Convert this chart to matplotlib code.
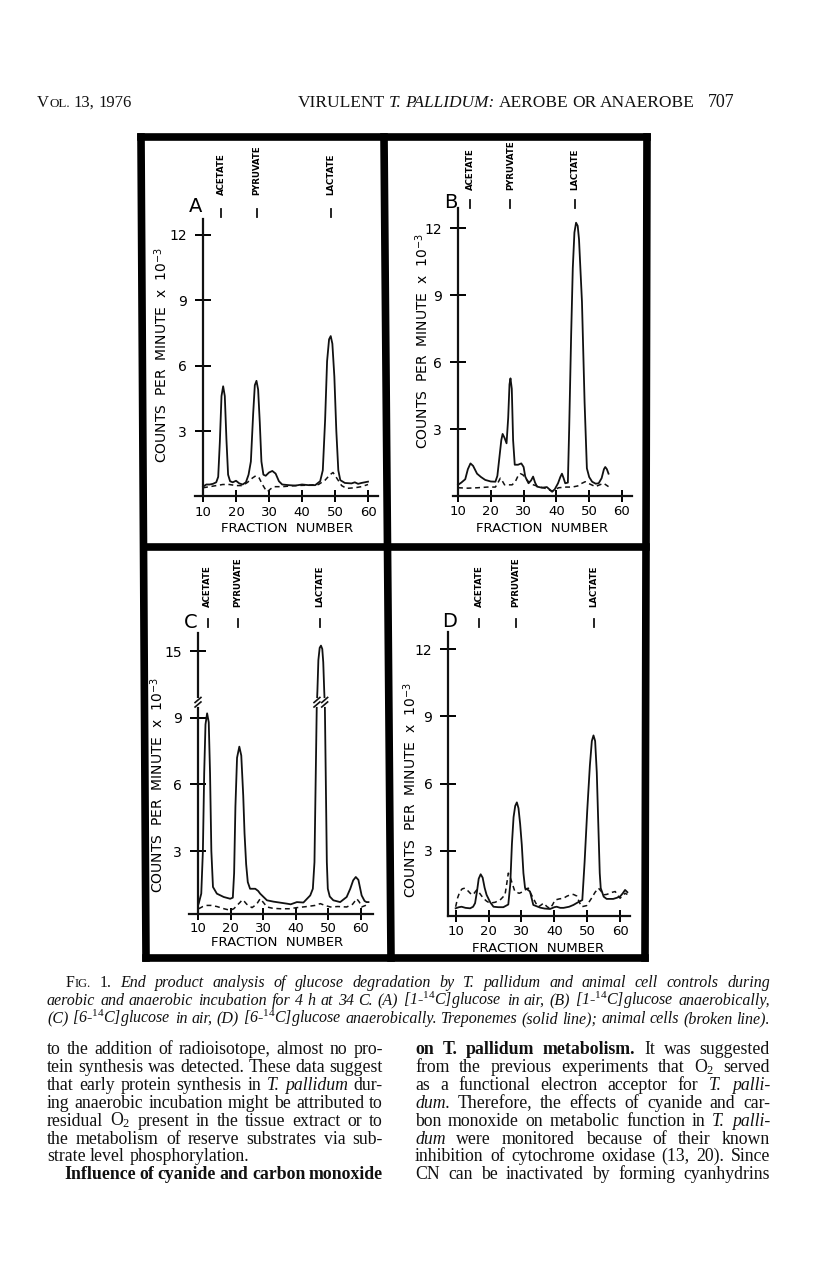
import numpy as np
import matplotlib
matplotlib.use('Agg')
import matplotlib.pyplot as plt
from matplotlib import transforms
from matplotlib.lines import Line2D

plt.rcParams['font.family'] = 'DejaVu Sans'
plt.rcParams['mathtext.fontset'] = 'custom'
plt.rcParams['mathtext.rm'] = 'Liberation Serif'
plt.rcParams['mathtext.it'] = 'Liberation Serif:italic'
plt.rcParams['mathtext.bf'] = 'Liberation Serif:bold'
plt.rcParams['mathtext.sf'] = 'DejaVu Sans'

W, H = 816, 1265

# ---- data (fraction number, counts per minute x 10^-3)
compounds = ["ACETATE", "PYRUVATE", "LACTATE"]
a_marks = [15.5, 26.3, 48.8]
b_marks = [13.7, 26.0, 45.7]
c_marks = [13.0, 22.2, 47.5]
d_marks = [17.2, 28.3, 52.0]

a_solid = [(10, 0.45), (11, 0.55), (12, 0.55), (13, 0.58), (14, 0.65), (14.6, 0.9), (15.1, 2.5),
           (15.6, 4.6), (16.1, 5.05), (16.6, 4.6), (17.1, 2.6), (17.6, 1.0), (18.2, 0.7), (19, 0.65),
           (20, 0.72), (21, 0.6), (22, 0.55), (23, 0.65), (23.8, 1.0), (24.5, 1.6), (25.2, 3.8),
           (25.7, 5.1), (26.2, 5.3), (26.7, 4.9), (27.2, 3.4), (27.7, 1.6), (28.3, 1.0), (29, 0.95),
           (30, 1.1), (31, 1.17), (32, 1.05), (33, 0.7), (34, 0.55), (36, 0.52), (38, 0.5),
           (40, 0.55), (42, 0.52), (44, 0.52), (45.5, 0.7), (46.3, 1.2), (47, 3.5), (47.6, 6.2),
           (48.2, 7.2), (48.7, 7.35), (49.2, 7.0), (49.8, 5.5), (50.4, 3.0), (51, 1.2), (51.6, 0.75),
           (53, 0.62), (55, 0.6), (56, 0.65), (57, 0.58), (58, 0.62), (60, 0.68)]
a_broken = [(10, 0.4), (12, 0.45), (14, 0.5), (16, 0.55), (18, 0.55), (20, 0.5), (22, 0.5),
            (23.5, 0.65), (25, 0.85), (26, 0.95), (27, 0.85), (28, 0.55), (29, 0.3), (29.5, 0.22),
            (30.5, 0.35), (31.5, 0.45), (34, 0.45), (38, 0.5), (42, 0.52), (45, 0.55), (47, 0.75),
            (48.5, 1.0), (49.4, 1.1), (50.5, 0.85), (52, 0.5), (53.5, 0.37), (56, 0.4), (58, 0.45),
            (60, 0.55)]

b_solid = [(10, 0.5), (11, 0.6), (12.2, 0.75), (13, 1.2), (13.8, 1.46), (14.6, 1.35), (15.8, 1.0),
           (17, 0.85), (18.3, 0.72), (20, 0.65), (21.4, 0.64), (22, 0.9), (22.6, 1.7), (23.2, 2.5),
           (23.6, 2.78), (24.2, 2.6), (24.8, 2.36), (25.3, 3.5), (25.7, 5.0), (26, 5.27), (26.4, 4.8),
           (26.8, 2.5), (27.3, 1.4), (28.3, 1.4), (29.3, 1.46), (30, 1.3), (30.5, 0.87), (31.5, 0.57),
           (32.3, 0.7), (32.9, 0.87), (33.5, 0.6), (34.1, 0.42), (35.6, 0.37), (37.1, 0.4),
           (38.7, 0.19), (39.5, 0.3), (40.5, 0.57), (41.2, 0.85), (41.7, 1.0), (42.2, 0.8),
           (42.7, 0.57), (43.5, 0.6), (43.9, 3.0), (44.5, 7.2), (45.0, 10.2), (45.5, 11.8),
           (46.0, 12.24), (46.5, 12.1), (46.9, 11.5), (47.8, 8.7), (48.6, 4.2), (49.3, 1.24),
           (50.0, 0.85), (50.9, 0.64), (52.0, 0.55), (52.9, 0.57), (53.8, 0.8), (54.5, 1.2),
           (54.9, 1.3), (55.4, 1.2), (55.9, 1.0)]
b_broken = [(10, 0.37), (13, 0.35), (16, 0.37), (19, 0.4), (21.4, 0.4), (22.2, 0.6), (22.9, 0.8),
            (23.6, 0.65), (24.2, 0.5), (25.5, 0.5), (26.5, 0.5), (27.5, 0.65), (28.3, 0.9), (29, 1.0),
            (29.8, 0.95), (30.5, 0.8), (31.5, 0.64), (33, 0.5), (34.6, 0.42), (36.5, 0.35),
            (38.7, 0.22), (40.7, 0.37), (43, 0.4), (44.8, 0.4), (46.5, 0.45), (47.5, 0.55),
            (48.8, 0.64), (50, 0.55), (51.9, 0.42), (53.2, 0.5), (54.4, 0.57), (55.9, 0.42)]

c_solid = [(10.2, 0.63), (11, 1.08), (11.5, 3.0), (11.9, 6.5), (12.3, 8.7), (12.8, 9.2), (13.3, 8.8),
           (13.7, 6.5), (14.1, 3.0), (14.6, 1.38), (15.8, 1.08), (17.9, 0.93), (19.9, 0.85),
           (20.7, 0.9), (21.1, 2.0), (21.5, 5.0), (22.0, 7.2), (22.7, 7.7), (23.3, 7.3), (23.9, 5.5),
           (24.3, 3.8), (24.8, 2.4), (25.3, 1.6), (26, 1.3), (27.6, 1.3), (28.5, 1.2), (29.1, 1.08),
           (31.2, 0.78), (33.2, 0.72), (37.3, 0.63), (38.5, 0.6), (40.4, 0.7), (42.4, 0.68),
           (44.5, 1.0), (45.3, 1.3), (45.8, 2.5), (46.2, 6.5), (46.5, 9.5), (46.7, 13.2), (47.0, 14.6),
           (47.4, 15.15), (47.8, 15.25), (48.2, 15.1), (48.5, 14.5), (48.8, 13.2), (49.0, 9.5),
           (49.3, 6.0), (49.6, 2.5), (49.9, 1.3), (50.5, 0.95), (51.6, 0.78), (53.7, 0.7),
           (55.7, 0.93), (56.8, 1.3), (57.7, 1.68), (58.5, 1.83), (59.3, 1.7), (60.3, 1.0),
           (61.2, 0.75), (61.8, 0.7), (62.4, 0.7)]
c_broken = [(10.2, 0.4), (11.5, 0.5), (12.8, 0.55), (14, 0.55), (15.8, 0.5), (18, 0.4), (19.9, 0.33),
            (21, 0.4), (22, 0.55), (23, 0.7), (23.6, 0.8), (24.3, 0.72), (25, 0.6), (26.6, 0.45),
            (28, 0.6), (29.1, 0.85), (30, 0.7), (31.2, 0.48), (33, 0.42), (35.3, 0.4), (38, 0.4),
            (40.4, 0.45), (43.5, 0.5), (46, 0.55), (47.6, 0.63), (49, 0.55), (50.7, 0.48), (53, 0.5),
            (55.7, 0.48), (57.5, 0.6), (58.8, 0.85), (59.6, 0.7), (60.3, 0.48), (61.5, 0.55),
            (62.4, 0.63)]

d_solid = [(10, 0.43), (11, 0.48), (11.8, 0.5), (13, 0.45), (14.4, 0.43), (15.3, 0.5), (15.9, 0.66),
           (16.5, 1.2), (17.0, 1.75), (17.6, 1.95), (18.2, 1.8), (18.8, 1.35), (19.4, 1.03),
           (20.5, 0.7), (21.5, 0.5), (23, 0.48), (24.5, 0.48), (26, 0.6), (26.6, 1.5), (27.1, 3.3),
           (27.6, 4.5), (28.1, 5.0), (28.6, 5.16), (29.1, 4.9), (29.6, 4.2), (30.1, 3.27), (30.6, 2.0),
           (31.1, 1.33), (32.0, 1.25), (32.6, 1.18), (33.6, 0.58), (35.7, 0.46), (37, 0.42),
           (38.7, 0.4), (40, 0.48), (40.7, 0.5), (41.8, 0.45), (42.8, 0.45), (44.5, 0.5), (45.8, 0.58),
           (47.2, 0.7), (48.5, 0.8), (49.2, 2.5), (50.0, 4.8), (50.8, 6.8), (51.4, 7.9), (51.9, 8.15),
           (52.4, 7.9), (52.9, 6.5), (53.4, 4.0), (53.8, 2.0), (54.1, 1.33), (55.0, 0.95),
           (55.9, 0.85), (57.9, 0.85), (59, 0.9), (60, 0.96), (60.8, 1.1), (61.5, 1.25), (62.2, 1.15)]
d_broken = [(10, 0.5), (10.6, 0.9), (11.3, 1.18), (12, 1.3), (12.8, 1.33), (13.8, 1.2), (14.9, 1.03),
            (15.6, 1.1), (16.4, 1.25), (17.3, 1.1), (18.4, 0.88), (19.4, 0.75), (20.4, 0.66),
            (22, 0.7), (23.5, 0.8), (25, 1.03), (25.5, 1.5), (26, 2.0), (26.5, 1.85), (27, 1.63),
            (28, 1.18), (29.3, 1.1), (30.6, 1.18), (31.5, 1.3), (32.1, 1.33), (32.8, 1.1),
            (33.6, 0.88), (34.4, 0.65), (35.2, 0.5), (36, 0.58), (36.7, 0.66), (37.8, 0.5),
            (38.7, 0.42), (39.5, 0.6), (40.2, 0.8), (41.5, 0.85), (42.8, 0.88), (43.8, 0.97),
            (44.8, 1.03), (45.8, 1.05), (46.8, 0.98), (47.6, 0.7), (48.3, 0.5), (49.8, 0.55),
            (50.5, 0.7), (51.3, 0.88), (52.4, 1.15), (53.4, 1.33), (54.2, 1.2), (54.9, 1.03),
            (55.9, 1.05), (56.9, 1.1), (57.7, 1.15), (58.5, 1.18), (59.3, 1.0), (60, 0.88),
            (60.8, 1.0), (61.5, 1.1), (62.2, 1.05)]

x_ticks = [10, 20, 30, 40, 50, 60]
y_ticks = [3, 6, 9, 12]
c_ticks = [3, 6, 9, 15]

# panel C has a broken y axis: values between 9.8 and 12.8 are cut out
BRK, CUT = 9.8, 3.0


def c_fwd(v):
    v = np.asarray(v, float)
    return np.where(v <= BRK, v, np.where(v < BRK + CUT, BRK, v - CUT))


def c_inv(d):
    d = np.asarray(d, float)
    return np.where(d <= BRK, d, d + CUT)


fig = plt.figure(figsize=(W / 100, H / 100), dpi=100)
renderer = fig.canvas.get_renderer()


def fx(px):
    return px / W


def fy(py):
    return 1 - py / H


def panel(rect, xlim, ylim, spine_x, solid, broken, marks, letter, letter_xy,
          lab_bottom, bar_y, ylab_xy, xlab_xy, xpad, yticks, scale=None):
    xl, xr, yb, yt = rect
    ax = fig.add_axes([fx(xl), fy(yb), (xr - xl) / W, (yb - yt) / H])
    ax.patch.set_visible(False)
    if scale is not None:
        ax.set_yscale('function', functions=scale)
    s = np.array(solid)
    b = np.array(broken)
    ax.plot(s[:, 0], s[:, 1], color='#111111', lw=1.3, solid_joinstyle='round')
    ax.plot(b[:, 0], b[:, 1], color='#111111', lw=1.1, dashes=(3.2, 2.4))
    ax.set_xlim(*xlim)
    ax.set_ylim(*ylim)
    for sp in ['top', 'right']:
        ax.spines[sp].set_visible(False)
    for sp in ['left', 'bottom']:
        ax.spines[sp].set_linewidth(1.6)
        ax.spines[sp].set_color('#111111')
    ax.spines['left'].set_position(('data', spine_x))
    ax.set_xticks(x_ticks, [str(t) for t in x_ticks])
    ax.set_yticks(yticks, [str(t) for t in yticks])
    ax.minorticks_off()
    ax.tick_params(axis='x', direction='inout', length=8, width=1.4, labelsize=9.5, pad=xpad)
    ax.tick_params(axis='y', direction='inout', length=11, width=1.4, labelsize=10, pad=6)
    # compound labels and their marker bars
    tr = transforms.blended_transform_factory(ax.transData, fig.transFigure)
    for name, xm in zip(compounds, marks):
        ax.text(xm, fy(lab_bottom), name, rotation=90, ha='center', va='bottom',
                fontsize=6.2, fontweight='bold', transform=tr)
        ax.plot([xm, xm], [fy(bar_y[0]), fy(bar_y[1])], color='#111111', lw=1.3,
                transform=tr, clip_on=False)
    fig.text(fx(letter_xy[0]), fy(letter_xy[1]), letter, fontsize=14, ha='center', va='center')
    fig.text(fx(ylab_xy[0]), fy(ylab_xy[1]), r"COUNTS  PER  MINUTE  x  10$^{\mathsf{-3}}$",
             rotation=90, ha='center', va='center', fontsize=10)
    fig.text(fx(xlab_xy[0]), fy(xlab_xy[1]), "FRACTION  NUMBER", ha='center', va='center',
             fontsize=9.5)
    return ax


panel((195.1, 377.9, 496.5, 219.3), (7.6, 63), (0, 12.7), 10, a_solid, a_broken, a_marks,
      "A", (196, 207), 195, (209, 217), (161, 355), (287, 528), 2.5, y_ticks)
panel((453.1, 631.8, 496, 208), (8.5, 63), (0, 12.9), 10, b_solid, b_broken, b_marks,
      "B", (451, 202), 190, (200, 208), (422, 341), (542, 528), 2.5, y_ticks)
axc = panel((188.9, 372.7, 914.3, 633.4), (7.2, 63.7), (0.15, 15.8), 10, c_solid, c_broken,
            c_marks, "C", (191, 622), 607, (619, 627), (157, 785), (277, 943), 1.5, c_ticks,
            scale=(c_fwd, c_inv))
panel((448.1, 630, 915.7, 632.4), (7.7, 63), (0.1, 12.75), 7.8, d_solid, d_broken, d_marks,
      "D", (450, 621), 607, (619, 627), (410, 790), (538, 949), 2.5, y_ticks)

# break marks on panel C (y axis and the lactate peak)
trc = transforms.blended_transform_factory(axc.transData, axc.transAxes)
f = (9.7 - 0.15) / (12.8 - 0.15)
for xc in [10, 46.56, 48.94]:
    axc.plot([xc, xc], [f - 0.007, f + 0.007], color='white', lw=3.5, transform=trc,
             clip_on=False, zorder=5)
    for off in [-0.008, 0.008]:
        axc.plot([xc - 0.9, xc + 0.9], [f + off - 0.009, f + off + 0.009], color='#111111',
                 lw=1.2, transform=trc, clip_on=False, zorder=6)

# black frame around the four panels
frame = [((141, 137), (647, 137)), ((141, 137), (146, 958)), ((647, 137), (645, 958)),
         ((146, 958), (645, 958)), ((144, 547), (646, 547)), ((384, 137), (391, 958))]
for (x0, y0), (x1, y1) in frame:
    fig.add_artist(Line2D([fx(x0), fx(x1)], [fy(y0), fy(y1)], color='black', lw=5.5,
                          solid_capstyle='projecting', transform=fig.transFigure))


# ---- page text, justified word by word
def put_line(parts, x0, x1, y, size, justify=True):
    words = []
    for txt, st in parts:
        for w in txt.split():
            words.append((w, st))
    placed = []
    for w, st in words:
        kw = dict(family='Liberation Serif', va='baseline', ha='left', color='#111111')
        if st == 'i':
            kw['style'] = 'italic'
        elif st == 'b':
            kw['weight'] = 'bold'
        if st == 'sc':
            pieces = [(w[0], size), (w[1:], size * 0.78)]
        else:
            pieces = [(w, size)]
        arts = [fig.text(0, fy(y), p, fontsize=sz, **kw) for p, sz in pieces]
        ws = [a.get_window_extent(renderer).width for a in arts]
        placed.append((arts, ws))
    total = sum(sum(ws) for _, ws in placed)
    if justify and len(placed) > 1:
        gap = (x1 - x0 - total) / (len(placed) - 1)
    else:
        gap = size * 100 / 72 * 0.25
    x = x0
    for arts, ws in placed:
        for a, w in zip(arts, ws):
            a.set_x(fx(x))
            x += w
        x += gap


put_line([("VOL.", 'sc'), ("13, 1976", 'r')], 37, 130, 107, 12, justify=False)
put_line([("VIRULENT", 'r'), ("T. PALLIDUM:", 'i'), ("AEROBE OR ANAEROBE", 'r')], 298, 695, 107, 12.5)
put_line([("707", 'r')], 708, 740, 107, 13, justify=False)

sup14 = r"$^{\mathrm{14}}$"
caption = [
    ([("FIG.", 'sc'), ("1.", 'r'),
      ("End product analysis of glucose degradation by T. pallidum and animal cell controls during", 'i')],
     66, 987),
    ([("aerobic and anaerobic incubation for 4 h at 34 C. (A) [1-" + sup14 + "C]glucose in air, (B) [1-"
       + sup14 + "C]glucose anaerobically,", 'i')], 47, 1005),
    ([("(C) [6-" + sup14 + "C]glucose in air, (D) [6-" + sup14 + "C]glucose anaerobically. "
       "Treponemes (solid line); animal cells (broken line).", 'i')], 47, 1023),
]
for parts, x0, y in caption:
    put_line(parts, x0, 770, y, 11.5)

o2 = r"O$_{\mathrm{2}}$"
left_col = [
    [("to the addition of radioisotope, almost no pro-", 'r')],
    [("tein synthesis was detected. These data suggest", 'r')],
    [("that early protein synthesis in", 'r'), ("T. pallidum", 'i'), ("dur-", 'r')],
    [("ing anaerobic incubation might be attributed to", 'r')],
    [("residual " + o2 + " present in the tissue extract or to", 'r')],
    [("the metabolism of reserve substrates via sub-", 'r')],
    [("strate level phosphorylation.", 'r')],
    [("Influence of cyanide and carbon monoxide", 'b')],
]
right_col = [
    [("on T. pallidum metabolism.", 'b'), ("It was suggested", 'r')],
    [("from the previous experiments that " + o2 + " served", 'r')],
    [("as a functional electron acceptor for", 'r'), ("T. palli-", 'i')],
    [("dum.", 'i'), ("Therefore, the effects of cyanide and car-", 'r')],
    [("bon monoxide on metabolic function in", 'r'), ("T. palli-", 'i')],
    [("dum", 'i'), ("were monitored because of their known", 'r')],
    [("inhibition of cytochrome oxidase (13, 20). Since", 'r')],
    [("CN can be inactivated by forming cyanhydrins", 'r')],
]
for i, parts in enumerate(left_col):
    y = 1054 + i * 17.9
    x0 = 64 if i == 7 else 47
    put_line(parts, x0, 383, y, 12.8, justify=(i != 6))
for i, parts in enumerate(right_col):
    y = 1054 + i * 17.9
    put_line(parts, 415, 770, y, 12.8)

fig.savefig("out.png", dpi=100)
